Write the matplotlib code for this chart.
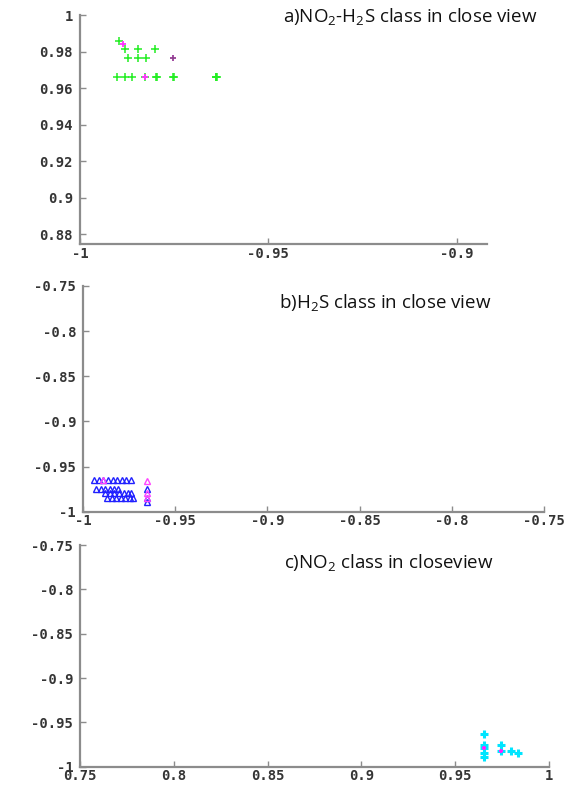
import matplotlib
matplotlib.use("Agg")
import matplotlib.pyplot as plt

plt.rcParams['mathtext.fontset'] = 'custom'
plt.rcParams['mathtext.rm'] = 'Open Sans'

# ---------------- data ----------------
# panel a : NO2-H2S class
a_green_x = [-0.9896, -0.9880, -0.9845, -0.9800, -0.9872, -0.9847, -0.9824,
             -0.9902, -0.9880, -0.9861, -0.9827, -0.9798, -0.9796, -0.9752, -0.9750,
             -0.9640, -0.9636, -0.9638]
a_green_y = [0.9858, 0.9812, 0.9812, 0.9812, 0.9766, 0.9766, 0.9766,
             0.9660, 0.9660, 0.9660, 0.9660, 0.9660, 0.9660, 0.9660, 0.9660,
             0.9660, 0.9660, 0.9662]
a_mag_x = [-0.9886, -0.9827, -0.9752]
a_mag_y = [0.9840, 0.9660, 0.9766]
a_dark_x = [-0.9752]
a_dark_y = [0.9766]

a_xticks = [-1, -0.95, -0.9]
a_xlabels = ['-1', '-0.95', '-0.9']
a_yticks = [0.88, 0.9, 0.92, 0.94, 0.96, 0.98, 1.0]
a_ylabels = ['0.88', '0.9', '0.92', '0.94', '0.96', '0.98', '1']

# panel b : H2S class
b_blue_x = [-0.9940, -0.9915, -0.9890, -0.9865, -0.9840, -0.9815, -0.9790, -0.9765, -0.9740,
            -0.9930, -0.9905, -0.9880, -0.9855, -0.9830, -0.9810,
            -0.9880, -0.9855, -0.9830, -0.9805, -0.9780, -0.9755, -0.9738,
            -0.9870, -0.9845, -0.9820, -0.9795, -0.9770, -0.9745, -0.9730,
            -0.9655, -0.9655, -0.9655]
b_blue_y = [-0.9650, -0.9650, -0.9650, -0.9650, -0.9650, -0.9650, -0.9650, -0.9650, -0.9650,
            -0.9750, -0.9750, -0.9750, -0.9750, -0.9750, -0.9750,
            -0.9795, -0.9795, -0.9795, -0.9795, -0.9795, -0.9795, -0.9795,
            -0.9850, -0.9850, -0.9850, -0.9850, -0.9850, -0.9850, -0.9850,
            -0.9750, -0.9850, -0.9890]
b_mag_x = [-0.9890, -0.9655, -0.9655, -0.9655]
b_mag_y = [-0.9650, -0.9656, -0.9796, -0.9850]

b_xticks = [-1, -0.95, -0.9, -0.85, -0.8, -0.75]
b_xlabels = ['-1', '-0.95', '-0.9', '-0.85', '-0.8', '-0.75']
b_yticks = [-1, -0.95, -0.9, -0.85, -0.8, -0.75]
b_ylabels = ['-1', '-0.95', '-0.9', '-0.85', '-0.8', '-0.75']

# panel c : NO2 class
c_cyan_x = [0.9655, 0.9655, 0.9655, 0.9655, 0.9655, 0.9744, 0.9744, 0.9798, 0.9834]
c_cyan_y = [-0.9630, -0.9755, -0.9790, -0.9845, -0.9887, -0.9755, -0.9820, -0.9820, -0.9845]
c_mag_x = [0.9655, 0.9744]
c_mag_y = [-0.9790, -0.9820]

c_xticks = [0.75, 0.8, 0.85, 0.9, 0.95, 1.0]
c_xlabels = ['0.75', '0.8', '0.85', '0.9', '0.95', '1']
c_yticks = [-1, -0.95, -0.9, -0.85, -0.8, -0.75]
c_ylabels = ['-1', '-0.95', '-0.9', '-0.85', '-0.8', '-0.75']

titles = [r'a)NO$_\mathregular{2}$-H$_\mathregular{2}$S class in close view',
          r'b)H$_\mathregular{2}$S class in close view',
          r'c)NO$_\mathregular{2}$ class in closeview']

# ---------------- figure ----------------
fig = plt.figure(figsize=(5.69, 7.85), dpi=100)

ax_a = fig.add_axes([0.1406, 0.689, 0.715, 0.2917])
ax_b = fig.add_axes([0.1459, 0.3482, 0.810, 0.2875])
ax_c = fig.add_axes([0.1411, 0.0233, 0.8237, 0.2824])

spine_col = '#8c8c8c'
tick_col = '#353535'


def style(ax, xt, xl, yt, yl, xlim, ylim):
    for s in ['top', 'right']:
        ax.spines[s].set_visible(False)
    for s in ['left', 'bottom']:
        ax.spines[s].set_color(spine_col)
        ax.spines[s].set_linewidth(1.6)
    ax.set_xlim(*xlim)
    ax.set_ylim(*ylim)
    ax.set_xticks(xt)
    ax.set_xticklabels(xl)
    ax.set_yticks(yt)
    ax.set_yticklabels(yl)
    ax.tick_params(direction='in', length=4, width=1, color=spine_col,
                   labelsize=10, labelcolor=tick_col, pad=5)
    ax.tick_params(axis='x', pad=2)
    for lab in ax.get_xticklabels() + ax.get_yticklabels():
        lab.set_fontweight('bold')
        lab.set_family('DejaVu Sans Mono')


# panel a
ax_a.plot(a_green_x, a_green_y, '+', color='#22ee22', markersize=5.5, mew=1.1, ls='none')
ax_a.plot(a_mag_x, a_mag_y, '+', color='#ff33ff', markersize=5, mew=1.3, ls='none')
ax_a.plot(a_dark_x, a_dark_y, '+', color='#555555', markersize=4.5, mew=1.1, ls='none', alpha=0.7)
style(ax_a, a_xticks, a_xlabels, a_yticks, a_ylabels, (-1, -0.892), (0.8745, 1.0))

# panel b
ax_b.plot(b_blue_x, b_blue_y, '^', color='#2020ff', markersize=4, mfc='none', mew=1.0, ls='none')
ax_b.plot(b_mag_x, b_mag_y, '^', color='#ff44ff', markersize=4, mfc='none', mew=1.0, ls='none')
style(ax_b, b_xticks, b_xlabels, b_yticks, b_ylabels, (-1, -0.75), (-1, -0.75))

# panel c
ax_c.plot(c_cyan_x, c_cyan_y, '+', color='#00e5ff', markersize=5.5, mew=2.2, ls='none')
ax_c.plot(c_mag_x, c_mag_y, '+', color='#ff22ff', markersize=3, mew=1.6, ls='none')
style(ax_c, c_xticks, c_xlabels, c_yticks, c_ylabels, (0.75, 1.0), (-1, -0.75))

fs = 13.5
fig.text(283 / 569, 1 - 17 / 785, titles[0], ha='left', va='center', fontsize=fs,
         family='Open Sans', color='#111111')
fig.text(279 / 569, 1 - 303 / 785, titles[1], ha='left', va='center', fontsize=fs,
         family='Open Sans', color='#111111')
fig.text(284 / 569, 1 - 563 / 785, titles[2], ha='left', va='center', fontsize=fs,
         family='Open Sans', color='#111111')

fig.savefig('out.png', dpi=100)
